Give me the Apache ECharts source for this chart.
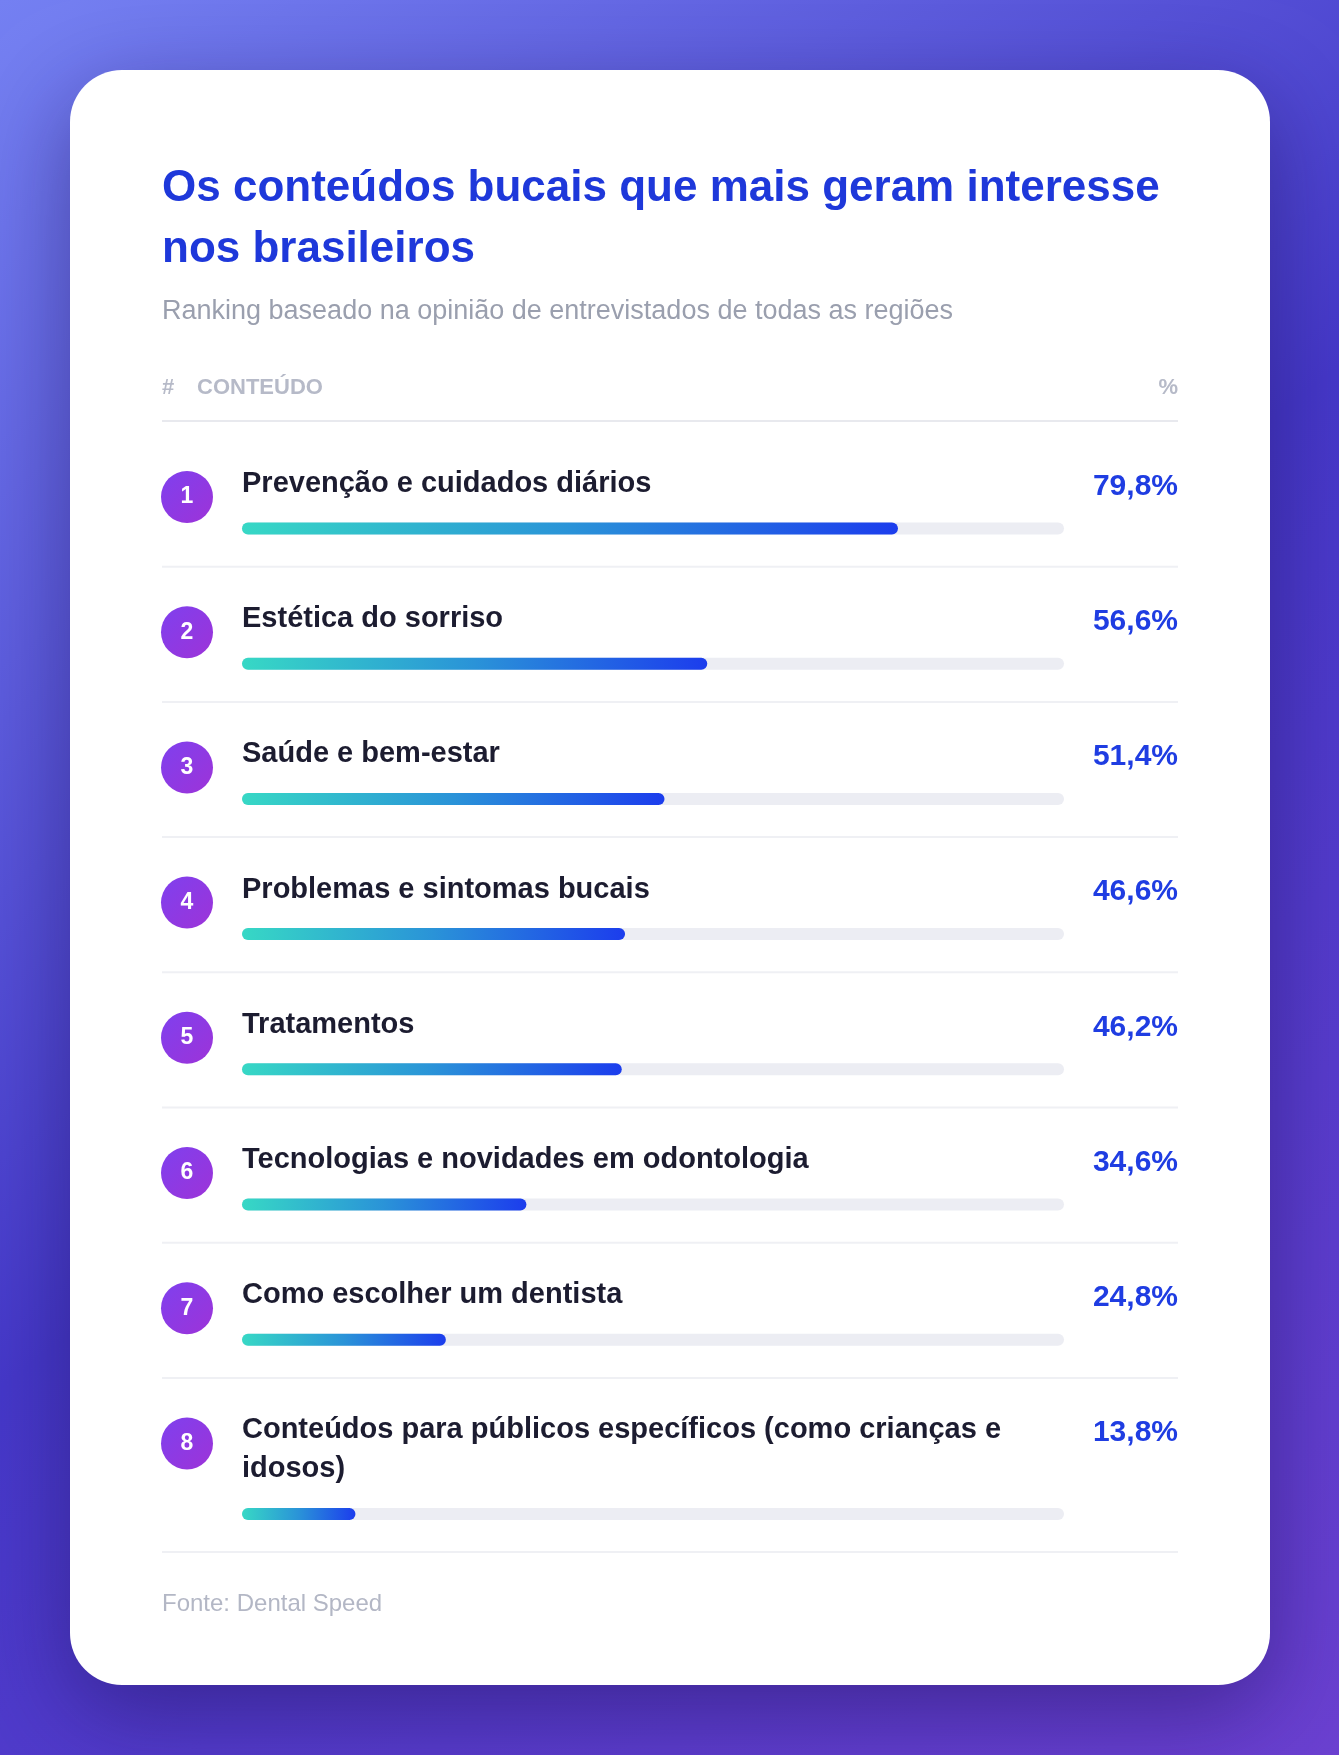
<!DOCTYPE html>
<html>
<head>
<meta charset="utf-8">
<script src="https://cdn.jsdelivr.net/npm/echarts@6/dist/echarts.min.js"></script>
<style>
  html, body { margin: 0; padding: 0; }
  #chart { width: 1339px; height: 1755px; }
</style>
</head>
<body>
<div id="chart"></div>
<script>
// ---------- DATA ----------
const categories = [
  'Prevenção e cuidados diários',
  'Estética do sorriso',
  'Saúde e bem-estar',
  'Problemas e sintomas bucais',
  'Tratamentos',
  'Tecnologias e novidades em odontologia',
  'Como escolher um dentista',
  'Conteúdos para públicos específicos (como crianças e idosos)'
];
const values = [79.8, 56.6, 51.4, 46.6, 46.2, 34.6, 24.8, 13.8];
const ranks = [1, 2, 3, 4, 5, 6, 7, 8];
const titleText = 'Os conteúdos bucais que mais geram interesse nos brasileiros';
const subtitleText = 'Ranking baseado na opinião de entrevistados de todas as regiões';
const headerLabels = ['#', 'CONTEÚDO', '%'];
const sourceText = 'Fonte: Dental Speed';

// ---------- LAYOUT ----------
const FONT = '"Liberation Sans", Arial, Helvetica, sans-serif';
const W = 1339, H = 1755;
const card = { x: 70, y: 70, w: 1200, h: 1615, r: 52 };
const contentL = 162, contentR = 1178;
const barL = 242, barW = 822;
const labelSize = 29, labelLH = 39;
const titleSize = 44;
const headerY = 388;
const headerDividerY = 421;
const firstRowTop = 431.5;
const rowPitch = 135.2;

const fmt = v => v.toFixed(1).replace('.', ',') + '%';
const valueLabels = values.map(fmt);

const mctx = document.createElement('canvas').getContext('2d');
function wrapText(t, font, width) {
  mctx.font = font;
  const words = t.split(' ');
  const lines = [];
  let cur = '';
  words.forEach(w => {
    const test = cur ? cur + ' ' + w : w;
    if (mctx.measureText(test).width > width && cur) { lines.push(cur); cur = w; } else { cur = test; }
  });
  if (cur) lines.push(cur);
  return lines;
}

const labelFont = 'bold ' + labelSize + 'px ' + FONT;
const wrappedLabels = categories.map(c => wrapText(c, labelFont, barW));
const titleLines = wrapText(titleText, 'bold ' + titleSize + 'px ' + FONT, contentR - contentL);

const rows = [];
let rowY = firstRowTop;
wrappedLabels.forEach((lines, i) => {
  const extra = (lines.length - 1) * labelLH;
  const barC = rowY + 97 + extra;
  const circleC = rowY + 65.5;
  const valueC = rowY + 55;
  const bottom = rowY + rowPitch + extra;
  rows.push({ rowTop: rowY, barC, circleC, valueC, bottom });
  rowY = bottom;
});

const barGradient = () => new echarts.graphic.LinearGradient(0, 0, 1, 0, [
  { offset: 0, color: '#37d8c5' },
  { offset: 0.5, color: '#2a93d8' },
  { offset: 1, color: '#1c3ded' }
]);
const badgeGradient = new echarts.graphic.LinearGradient(0, 0, 1, 1, [
  { offset: 0, color: '#7f40ee' },
  { offset: 1, color: '#9d33d8' }
]);

const grids = [], xAxes = [], yAxes = [], series = [];
rows.forEach((r, i) => {
  grids.push({ left: barL, width: barW, top: r.barC - 6, height: 12, containLabel: false });
  xAxes.push({ gridIndex: i, type: 'value', min: 0, max: 100, show: false });
  const badgeOff = r.barC - r.circleC;
  const valOff = r.barC - r.valueC;
  yAxes.push({
    gridIndex: i, type: 'category', position: 'left', data: [categories[i]],
    axisLine: { show: false }, axisTick: { show: false }, splitLine: { show: false },
    axisLabel: {
      margin: 29,
      formatter: () => '{b|' + ranks[i] + '}',
      padding: [0, 0, 2 * badgeOff, 0],
      rich: {
        b: {
          width: 52, height: 52, lineHeight: 52, borderRadius: 26,
          backgroundColor: badgeGradient, color: '#ffffff',
          fontSize: 23, fontWeight: 'bold', align: 'center', fontFamily: FONT
        }
      }
    }
  });
  yAxes.push({
    gridIndex: i, type: 'category', position: 'right', data: [valueLabels[i]],
    axisLine: { show: false }, axisTick: { show: false }, splitLine: { show: false },
    axisLabel: {
      margin: contentR - (barL + barW), align: 'right',
      formatter: v => '{v|' + v + '}',
      padding: [0, 0, 2 * valOff, 0],
      rich: {
        v: { fontSize: 30, fontWeight: 'bold', color: '#1f3de2', fontFamily: FONT, lineHeight: 36 }
      }
    }
  });
  series.push({
    type: 'bar', xAxisIndex: i, yAxisIndex: 2 * i,
    data: [values[i]], barWidth: 12, silent: true,
    showBackground: true,
    backgroundStyle: { color: '#ecedf3', borderRadius: 6 },
    itemStyle: { color: barGradient(), borderRadius: 6 },
    label: {
      show: true, position: [0, -19],
      formatter: () => wrappedLabels[i].join('\n'),
      align: 'left', verticalAlign: 'bottom',
      fontSize: labelSize, fontWeight: 'bold', color: '#1c1c30', fontFamily: FONT,
      lineHeight: labelLH
    }
  });
});

const headerFont = 'bold 22px ' + FONT;
const graphics = [
  {
    type: 'rect', z: -20, silent: true,
    shape: { x: 0, y: 0, width: W, height: H },
    style: {
      fill: new echarts.graphic.LinearGradient(0, 0, 1, 1, [
        { offset: 0, color: '#7480f2' },
        { offset: 0.5, color: '#4437c8' },
        { offset: 1, color: '#6a3fd0' }
      ])
    }
  },
  {
    type: 'rect', z: -10, silent: true,
    shape: { x: card.x, y: card.y, width: card.w, height: card.h, r: card.r },
    style: { fill: '#ffffff', shadowBlur: 90, shadowOffsetY: 28, shadowColor: 'rgba(25,12,80,0.45)' }
  },
  {
    type: 'text', z: 5, silent: true,
    style: { text: headerLabels[0], x: contentL, y: headerY, fill: '#b6bac8',
      font: headerFont, textAlign: 'left', textVerticalAlign: 'middle', align: 'left', verticalAlign: 'middle' }
  },
  {
    type: 'text', z: 5, silent: true,
    style: { text: headerLabels[1], x: 197, y: headerY, fill: '#b6bac8',
      font: headerFont, textAlign: 'left', textVerticalAlign: 'middle', align: 'left', verticalAlign: 'middle' }
  },
  {
    type: 'text', z: 5, silent: true,
    style: { text: headerLabels[2], x: contentR, y: headerY, fill: '#b6bac8',
      font: headerFont, textAlign: 'right', textVerticalAlign: 'middle', align: 'right', verticalAlign: 'middle' }
  },
  {
    type: 'line', z: 5, silent: true,
    shape: { x1: contentL, y1: headerDividerY, x2: contentR, y2: headerDividerY },
    style: { stroke: '#e8e9ee', lineWidth: 2 }
  },
  {
    type: 'text', z: 5, silent: true,
    style: { text: sourceText, x: contentL, y: 1604, fill: '#b3b7c5',
      font: '24px ' + FONT, textAlign: 'left', textVerticalAlign: 'middle', align: 'left', verticalAlign: 'middle' }
  }
];
rows.forEach(r => {
  graphics.push({
    type: 'line', z: 5, silent: true,
    shape: { x1: contentL, y1: r.bottom, x2: contentR, y2: r.bottom },
    style: { stroke: '#eff0f4', lineWidth: 2 }
  });
});

const chart = echarts.init(document.getElementById('chart'), null, { renderer: 'canvas' });
chart.setOption({
  animation: false,
  title: {
    text: titleLines.join('\n'),
    subtext: subtitleText,
    left: contentL, top: 158, padding: 0, itemGap: 15,
    textStyle: { fontSize: titleSize, fontWeight: 'bold', color: '#1e38da', lineHeight: 61, fontFamily: FONT },
    subtextStyle: { fontSize: 27, color: '#9a9fae', lineHeight: 33, fontFamily: FONT }
  },
  graphic: graphics,
  grid: grids,
  xAxis: xAxes,
  yAxis: yAxes,
  series: series
});
</script>
</body>
</html>
